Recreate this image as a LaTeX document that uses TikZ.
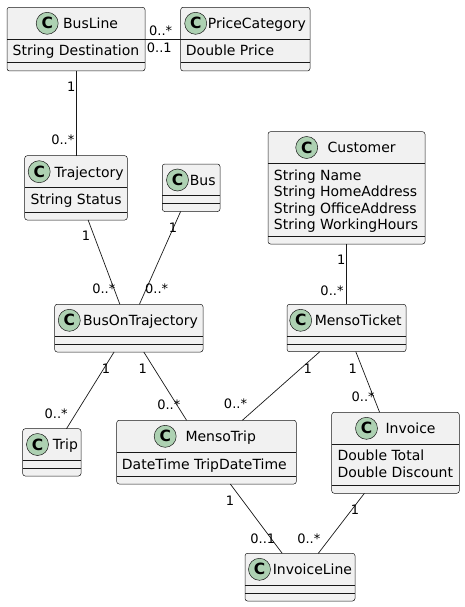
\documentclass[tikz,border=0pt]{standalone}
\usepackage{fontspec}
\setmainfont{DejaVu Sans}
\definecolor{uml}{HTML}{181818}
\definecolor{boxbg}{HTML}{F1F1F1}
\definecolor{spotc}{HTML}{ADD1B2}
\tikzset{
  cls/.style={draw=uml, fill=boxbg, rounded corners=2.5pt, line width=0.5pt, inner sep=0pt, outer sep=0pt},
  sepl/.style={draw=uml, line width=0.5pt},
  spot/.style={circle, draw=uml, fill=spotc, line width=0.5pt, minimum size=22pt, inner sep=0pt,
    font=\fontsize{15.5}{15.5}\selectfont\bfseries},
  cname/.style={anchor=base west, inner sep=0pt, font=\fontsize{14}{16}\selectfont},
  attr/.style={anchor=base west, inner sep=0pt, font=\fontsize{14}{16}\selectfont},
  mult/.style={inner sep=0pt, font=\fontsize{13}{15}\selectfont},
  assoc/.style={draw=uml, line width=0.7pt},
}
% id, L, T, R, B, sep1, sep2
\newcommand{\umlclass}[7]{%
  \pgfmathsetmacro{\ucx}{(#2+#4)/2}%
  \pgfmathsetmacro{\ucy}{(#3+#5)/2}%
  \pgfmathsetmacro{\ucw}{#4-#2}%
  \pgfmathsetmacro{\uch}{#5-#3}%
  \node[cls, minimum width=\ucw pt, minimum height=\uch pt] (#1) at (\ucx,\ucy) {};
  \draw[sepl] (#2,#6) -- (#4,#6);
  \draw[sepl] (#2,#7) -- (#4,#7);
}
% id, spot x, header centre y, name x, name
\newcommand{\umlhead}[5]{%
  \node[spot] (#1-spot) at (#2,#3) {C};
  \pgfmathsetmacro{\uby}{#3+5.3}%
  \node[cname] (#1-name) at (#4,\uby) {#5};
}
\begin{document}
\begin{tikzpicture}[x=1pt,y=-1pt]
\useasboundingbox (0,0) rectangle (465,607);

% classes
\umlclass{busline}{7}{7.3}{145}{71}{39.3}{62.7}
\umlhead{busline}{47.2}{23.3}{62.9}{BusLine}
\node[attr] (busline-a1) at (12.5,55.6) {String Destination};

\umlclass{pricecat}{180.7}{7.3}{310}{71}{39.3}{62.7}
\umlhead{pricecat}{195.7}{23.3}{207.6}{PriceCategory}
\node[attr] (pricecat-a1) at (185.7,55.6) {Double Price};

\umlclass{traj}{24.7}{155.7}{127.3}{220}{187.7}{212.3}
\umlhead{traj}{39.2}{171.7}{54.3}{Trajectory}
\node[attr] (traj-a1) at (30.5,204.3) {String Status};

\umlclass{bus}{162.3}{164}{220}{211.5}{195.5}{203.5}
\umlhead{bus}{177.5}{180}{189.6}{Bus}

\umlclass{bot}{54.7}{304.3}{203}{352}{336.7}{344.3}
\umlhead{bot}{69.3}{320.3}{82.9}{BusOnTrajectory}

\umlclass{cust}{268}{131.7}{425}{244}{163.3}{236.7}
\umlhead{cust}{306.7}{147.5}{327.5}{Customer}
\node[attr] (cust-a1) at (273.7,180) {String Name};
\node[attr] (cust-a2) at (273.7,196.5) {String HomeAddress};
\node[attr] (cust-a3) at (273.7,213) {String OfficeAddress};
\node[attr] (cust-a4) at (273.7,229.3) {String WorkingHours};

\umlclass{ticket}{287}{304.3}{406}{351.7}{336.7}{344.3}
\umlhead{ticket}{300.7}{320.3}{314.6}{MensoTicket}

\umlclass{trip}{22.7}{428.7}{81}{476}{460}{468}
\umlhead{trip}{37.5}{444.5}{52.7}{Trip}

\umlclass{mtrip}{116.7}{420.3}{296.3}{484}{452.3}{476.3}
\umlhead{mtrip}{165.2}{436.3}{185.3}{MensoTrip}
\node[attr] (mtrip-a1) at (121.7,469.5) {DateTime TripDateTime};

\umlclass{invoice}{331.7}{412.3}{459.3}{493.3}{444.3}{485.7}
\umlhead{invoice}{366.5}{428.3}{385.3}{Invoice}
\node[attr] (invoice-a1) at (337.3,460.8) {Double Total};
\node[attr] (invoice-a2) at (337.3,477.3) {Double Discount};

\umlclass{iline}{245}{553.3}{355}{601}{585.7}{593.3}
\umlhead{iline}{259.5}{569.3}{272.6}{InvoiceLine}

% associations
\draw[assoc] (busline) -- (pricecat);
\draw[assoc] (busline) -- (traj);
\draw[assoc] (traj) -- (bot);
\draw[assoc] (bus) -- (bot);
\draw[assoc] (cust) -- (ticket);
\draw[assoc] (bot) -- (trip);
\draw[assoc] (bot) -- (mtrip);
\draw[assoc] (ticket) -- (mtrip);
\draw[assoc] (ticket) -- (invoice);
\draw[assoc] (mtrip) -- (iline);
\draw[assoc] (invoice) -- (iline);

% multiplicities
\node[mult] (m1) at (160.7,31) {0..*};
\node[mult] (m2) at (159.3,47.5) {0..1};
\node[mult] (m3) at (71.3,86.7) {1};
\node[mult] (m4) at (62.8,140) {0..*};
\node[mult] (m5) at (86,235.7) {1};
\node[mult] (m6) at (103.8,288.3) {0..*};
\node[mult] (m7) at (173,228) {1};
\node[mult] (m8) at (156.7,288.3) {0..*};
\node[mult] (m9) at (341.3,259.7) {1};
\node[mult] (m10) at (332,290.3) {0..*};
\node[mult] (m11) at (106,369) {1};
\node[mult] (m12) at (56.2,413.3) {0..*};
\node[mult] (m13) at (142.7,369) {1};
\node[mult] (m14) at (168.8,404.3) {0..*};
\node[mult] (m15) at (307.7,369) {1};
\node[mult] (m16) at (235.5,404) {0..*};
\node[mult] (m17) at (352.7,369) {1};
\node[mult] (m18) at (363.2,396.7) {0..*};
\node[mult] (m19) at (230,501) {1};
\node[mult] (m20) at (262.8,538.3) {0..1};
\node[mult] (m21) at (355,509.3) {1};
\node[mult] (m22) at (308.8,538.3) {0..*};
\end{tikzpicture}
\end{document}
